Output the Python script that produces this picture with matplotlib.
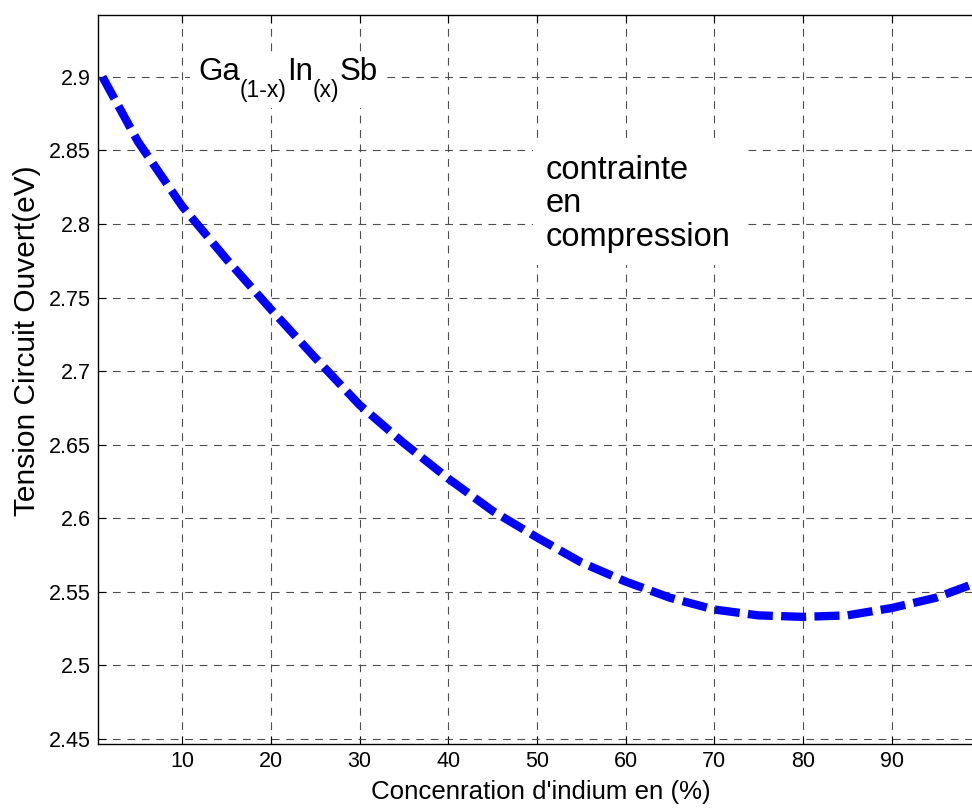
import matplotlib
matplotlib.use("Agg")
import matplotlib.pyplot as plt
from matplotlib import transforms
from matplotlib.patches import Rectangle

# concentration d'indium (%) et tension
indium = [1, 5, 10, 15, 20, 25, 30, 35, 40, 45, 50, 55, 60, 65, 70, 75, 80, 85, 90, 95, 99.5]
tension = [2.900, 2.856, 2.812, 2.776, 2.742, 2.709, 2.677, 2.651, 2.627, 2.605, 2.587,
           2.570, 2.557, 2.546, 2.538, 2.534, 2.533, 2.534, 2.539, 2.546, 2.556]
xticks = [10, 20, 30, 40, 50, 60, 70, 80, 90]
yticks = [2.45, 2.5, 2.55, 2.6, 2.65, 2.7, 2.75, 2.8, 2.85, 2.9]
# morceaux de l'étiquette Ga(1-x)In(x)Sb : (texte, indice ?)
label_parts = [("Ga", False), ("(1-x)", True), ("In", False), ("(x)", True), ("Sb", False)]

plt.rcParams["font.family"] = ["Liberation Sans", "DejaVu Sans"]

fig = plt.figure(figsize=(9.72, 8.1), dpi=100)
ax = fig.add_axes([98 / 972, 66 / 810, 884 / 972, 729 / 810])

ax.plot(indium, tension, color="#0000ff", lw=6, dashes=(3, 1),
        dash_capstyle="butt", solid_joinstyle="round", zorder=3)

ax.set_xlim(0.5, 100.2)
ax.set_ylim(2.4466, 2.942)
ax.set_xticks(xticks)
ax.set_yticks(yticks)
ax.set_yticklabels([f"{v:g}" for v in yticks])
ax.tick_params(direction="in", length=6, width=0.8, labelsize=15.5,
               top=True, right=True, pad=5)
ax.grid(True, color="0.3", lw=0.8, linestyle=(0, (7, 6)))
for s in ax.spines.values():
    s.set_linewidth(1.0)

ax.set_xlabel("Concenration d'indium en (%)", fontsize=18.6)
ax.set_ylabel("Tension Circuit Ouvert(eV)", fontsize=21.5)
ax.xaxis.set_label_coords(0.501, -0.05)
ax.yaxis.set_label_coords(-0.064, 0.553)

# étiquette avec indices abaissés, morceau par morceau
fig.canvas.draw()
renderer = fig.canvas.get_renderer()
x_off = 0.0
extents = []
for txt, sub in label_parts:
    size = 16.5 if sub else 22.5
    dy = -17 if sub else 0
    t = ax.text(11.8, 2.898, txt, fontsize=size, ha="left", va="baseline",
                transform=transforms.offset_copy(ax.transData, fig=fig, x=x_off, y=dy, units="dots"),
                zorder=5)
    ext = t.get_window_extent(renderer)
    extents.append(ext)
    x_off += ext.width
box = transforms.Bbox.union(extents)
ax.add_patch(Rectangle((box.x0 - 8, box.y0 - 6), box.width + 14, box.height + 10,
                       facecolor="white", edgecolor="none",
                       transform=transforms.IdentityTransform(), zorder=4, clip_on=False))

ax.text(51.0, 2.847, "contrainte\nen\ncompression", fontsize=23.5, ha="left", va="top",
        linespacing=1.1,
        bbox=dict(facecolor="white", edgecolor="none", pad=9), zorder=4)

fig.savefig("out.png", dpi=100)
